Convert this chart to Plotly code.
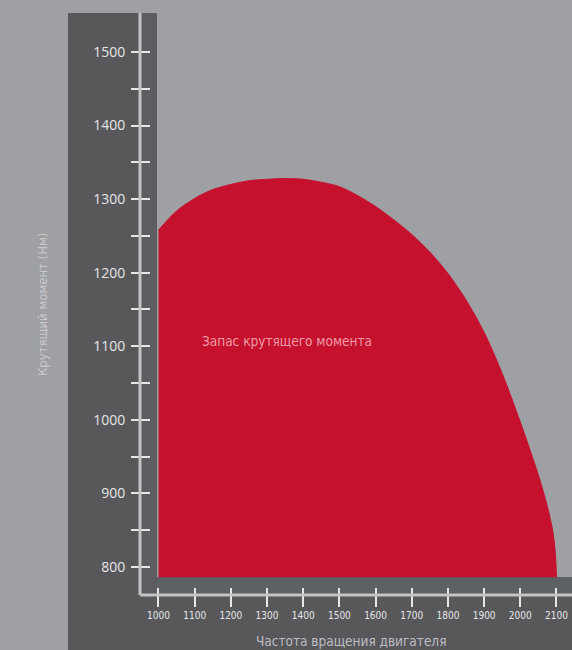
import plotly.graph_objects as go

# ---- data ----
rpm = [1000, 1050, 1100, 1150, 1200, 1250, 1300, 1350, 1400, 1450, 1500,
       1550, 1600, 1650, 1700, 1750, 1800, 1850, 1900, 1950, 2000, 2050,
       2075, 2090, 2097, 2100]
torque = [1258, 1284, 1301, 1313, 1320, 1325, 1327, 1328, 1327, 1323, 1317,
          1305, 1290, 1272, 1252, 1228, 1199, 1163, 1119, 1063, 997, 925,
          882, 848, 818, 786]
torque_floor = 786

y_tick_vals = [800, 850, 900, 950, 1000, 1050, 1100, 1150, 1200, 1250,
               1300, 1350, 1400, 1450, 1500]
y_tick_text = ["800", "", "900", "", "1000", "", "1100", "", "1200", "",
               "1300", "", "1400", "", "1500"]
x_tick_vals = [1000, 1100, 1200, 1300, 1400, 1500, 1600, 1700, 1800, 1900,
               2000, 2100]
x_tick_text = [str(v) for v in x_tick_vals]

x_title = "Частота вращения двигателя"
y_title = "Крутящий момент (Нм)"
area_label = "Запас крутящего момента"

# ---- styling ----
W, H = 572, 650
ML, MR, MT, MB = 151, 0, 13, 63
PW, PH = W - ML - MR, H - MT - MB

BG = "#9ea0a3"
PANEL = "#58585b"
RED = "#c6112e"
LINE = "#c2c3c5"
TICK = "#e6e6e6"
COND = "DejaVu Sans Condensed, Liberation Sans Narrow, Roboto, sans-serif"


def px(x):
    return (x - ML) / PW


def py(y):
    return (H - MB - y) / PH


fig = go.Figure()
# lower boundary of the reserve area
fig.add_trace(go.Scatter(
    x=[rpm[0], rpm[-1]], y=[torque_floor, torque_floor],
    mode="lines", line=dict(color=RED, width=0),
    hoverinfo="skip", showlegend=False,
))
# torque curve, filled down to the floor
fig.add_trace(go.Scatter(
    x=rpm, y=torque, fill="tonexty", fillcolor=RED, mode="lines",
    line=dict(color=RED, width=1, shape="spline", smoothing=0.8),
    hoverinfo="skip", showlegend=False,
))

shapes = [
    dict(type="rect", xref="paper", yref="paper", layer="below",
         x0=px(68), x1=px(157), y0=py(650), y1=py(13),
         fillcolor=PANEL, line_width=0),
    dict(type="rect", xref="paper", yref="paper", layer="below",
         x0=px(68), x1=px(572), y0=py(650), y1=py(577),
         fillcolor=PANEL, line_width=0),
    dict(type="rect", xref="paper", yref="paper", layer="below",
         x0=px(141), x1=px(572), y0=py(594), y1=py(577),
         fillcolor="#5e6163", line_width=0),
    dict(type="rect", xref="paper", yref="paper", layer="below",
         x0=px(141), x1=px(157), y0=py(594), y1=py(13),
         fillcolor="#5c5d60", line_width=0),
    dict(type="line", xref="paper", yref="paper",
         x0=px(140), x1=px(140), y0=py(595), y1=py(13),
         line=dict(color=LINE, width=3)),
    dict(type="line", xref="paper", yref="paper",
         x0=px(140), x1=px(572), y0=py(595), y1=py(595),
         line=dict(color=LINE, width=3)),
]

annotations = [
    dict(x=1115, y=1107, xref="x", yref="y", text=area_label,
         showarrow=False, xanchor="left", yanchor="middle",
         font=dict(family=COND, size=13.5, color="#ec9ba6")),
    dict(x=px(351), y=py(641), xref="paper", yref="paper", text=x_title,
         showarrow=False, xanchor="center", yanchor="middle",
         font=dict(family=COND, size=13.5, color="#bdbec1")),
    dict(x=px(43), y=py(304), xref="paper", yref="paper", text=y_title,
         showarrow=False, xanchor="center", yanchor="middle", textangle=-90,
         font=dict(family=COND, size=13, color="#c9cacc")),
]

fig.update_layout(
    width=W, height=H,
    margin=dict(l=ML, r=MR, t=MT, b=MB, pad=0),
    paper_bgcolor=BG, plot_bgcolor="rgba(0,0,0,0)",
    shapes=shapes, annotations=annotations,
    showlegend=False,
)
fig.update_xaxes(
    range=[979.3, 2142.9], showgrid=False, zeroline=False, showline=False,
    tickmode="array", tickvals=x_tick_vals, ticktext=x_tick_text,
    ticks="outside", ticklen=19, tickwidth=2, tickcolor=TICK,
    tickfont=dict(family=COND, size=10, color=TICK),
    fixedrange=True,
)
fig.update_yaxes(
    range=[772.8, 1553], showgrid=False, zeroline=False, showline=False,
    tickmode="array", tickvals=y_tick_vals, ticktext=y_tick_text,
    ticks="outside", ticklen=19, tickwidth=2, tickcolor=TICK,
    ticklabelstandoff=3,
    tickfont=dict(family="Open Sans, sans-serif", size=14, color=TICK),
    fixedrange=True,
)

fig.write_html(
    "out.html",
    config={"displayModeBar": False},
    post_script="document.body.style.margin='0';document.body.style.overflow='hidden';",
)
